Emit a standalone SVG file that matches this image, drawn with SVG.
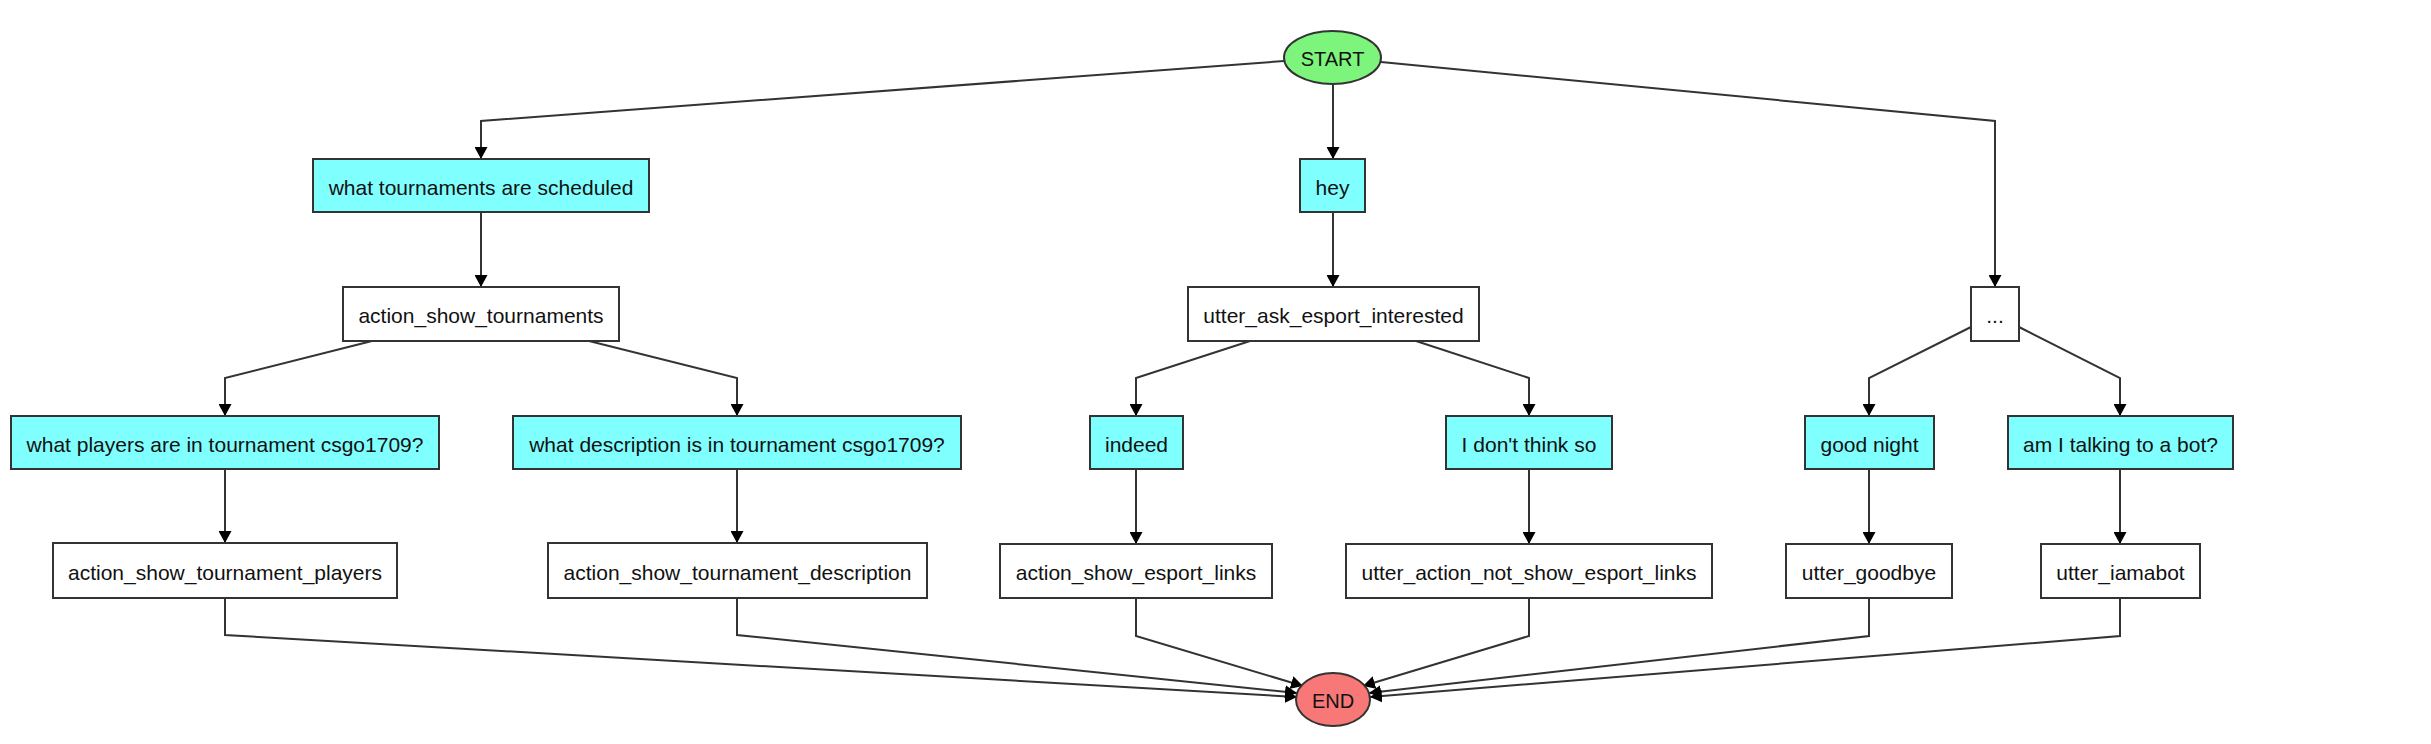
<svg xmlns="http://www.w3.org/2000/svg" width="2431" height="744" viewBox="0 0 2431 744">
<style>
.n rect, .n ellipse { stroke: #333; stroke-width: 2; }
.u rect { fill: #80ffff; }
.a rect { fill: #fff; }
.n text { font-family: "Liberation Sans", Arial, sans-serif; font-size: 21px; fill: #111; text-anchor: middle; dominant-baseline: central; }
.t text { font-size: 20px; }
.e path { fill: none; stroke: #333; stroke-width: 2; marker-end: url(#arr); }
</style>
<defs>
<marker id="arr" markerWidth="13" markerHeight="13" refX="12" refY="6.5" orient="auto" markerUnits="userSpaceOnUse">
<path d="M0,0 L12,6.5 L0,13 z" fill="#000"/>
</marker>
</defs>
<rect width="2431" height="744" fill="#fff"/>
<g class="e" id="connectors">
<path d="M1284,61 L481,121 L481,159"/>
<path d="M1333,84 L1333,159"/>
<path d="M1381,62 L1995,121 L1995,287"/>
<path d="M481,212 L481,287"/>
<path d="M1333,212 L1333,287"/>
<path d="M372,341 L225,378 L225,416"/>
<path d="M589,341 L737,378 L737,416"/>
<path d="M1250,341 L1136,378 L1136,416"/>
<path d="M1416,341 L1529,378 L1529,416"/>
<path d="M1971,327 L1869,378 L1869,416"/>
<path d="M2019,327 L2120,378 L2120,416"/>
<path d="M225,469 L225,543"/>
<path d="M737,469 L737,543"/>
<path d="M1136,469 L1136,544"/>
<path d="M1529,469 L1529,544"/>
<path d="M1869,469 L1869,544"/>
<path d="M2120,469 L2120,544"/>
<path d="M225,598 L225,635 L1297,697"/>
<path d="M737,598 L737,635 L1297,693"/>
<path d="M1136,598 L1136,636 L1303,686"/>
<path d="M1529,598 L1529,636 L1363,686"/>
<path d="M1869,598 L1869,636 L1369,693"/>
<path d="M2120,598 L2120,636 L1370,697"/>
</g>
<g class="n t" id="start"><ellipse cx="1332.5" cy="57.5" rx="48.5" ry="26.5" fill="#7df57d"/><text x="1332.5" y="59">START</text></g>
<g class="n u" id="n_what_tournaments"><rect x="313" y="159" width="336" height="53"/><text x="481" y="187">what tournaments are scheduled</text></g>
<g class="n u" id="n_hey"><rect x="1300" y="159" width="65" height="53"/><text x="1332.5" y="187">hey</text></g>
<g class="n a" id="n_action_show_tournaments"><rect x="343" y="287" width="276" height="54"/><text x="481" y="315">action_show_tournaments</text></g>
<g class="n a" id="n_utter_ask"><rect x="1188" y="287" width="291" height="54"/><text x="1333.5" y="315">utter_ask_esport_interested</text></g>
<g class="n a" id="n_dots"><rect x="1971" y="287" width="48" height="54"/><text x="1995" y="315">...</text></g>
<g class="n u" id="n_players_q"><rect x="11" y="416" width="428" height="53"/><text x="225" y="444">what players are in tournament csgo1709?</text></g>
<g class="n u" id="n_description_q"><rect x="513" y="416" width="448" height="53"/><text x="737" y="444">what description is in tournament csgo1709?</text></g>
<g class="n u" id="n_indeed"><rect x="1090" y="416" width="93" height="53"/><text x="1136.5" y="444">indeed</text></g>
<g class="n u" id="n_dont_think"><rect x="1446" y="416" width="166" height="53"/><text x="1529" y="444">I don't think so</text></g>
<g class="n u" id="n_good_night"><rect x="1805" y="416" width="129" height="53"/><text x="1869.5" y="444">good night</text></g>
<g class="n u" id="n_bot_q"><rect x="2008" y="416" width="225" height="53"/><text x="2120.5" y="444">am I talking to a bot?</text></g>
<g class="n a" id="n_players_a"><rect x="53" y="543" width="344" height="55"/><text x="225" y="572">action_show_tournament_players</text></g>
<g class="n a" id="n_description_a"><rect x="548" y="543" width="379" height="55"/><text x="737.5" y="572">action_show_tournament_description</text></g>
<g class="n a" id="n_esport_links"><rect x="1000" y="544" width="272" height="54"/><text x="1136" y="572">action_show_esport_links</text></g>
<g class="n a" id="n_not_show"><rect x="1346" y="544" width="366" height="54"/><text x="1529" y="572">utter_action_not_show_esport_links</text></g>
<g class="n a" id="n_goodbye"><rect x="1786" y="544" width="166" height="54"/><text x="1869" y="572">utter_goodbye</text></g>
<g class="n a" id="n_iamabot"><rect x="2041" y="544" width="159" height="54"/><text x="2120.5" y="572">utter_iamabot</text></g>
<g class="n t" id="end"><ellipse cx="1333" cy="699.5" rx="37" ry="26.5" fill="#f87878"/><text x="1333" y="701">END</text></g>
</svg>
